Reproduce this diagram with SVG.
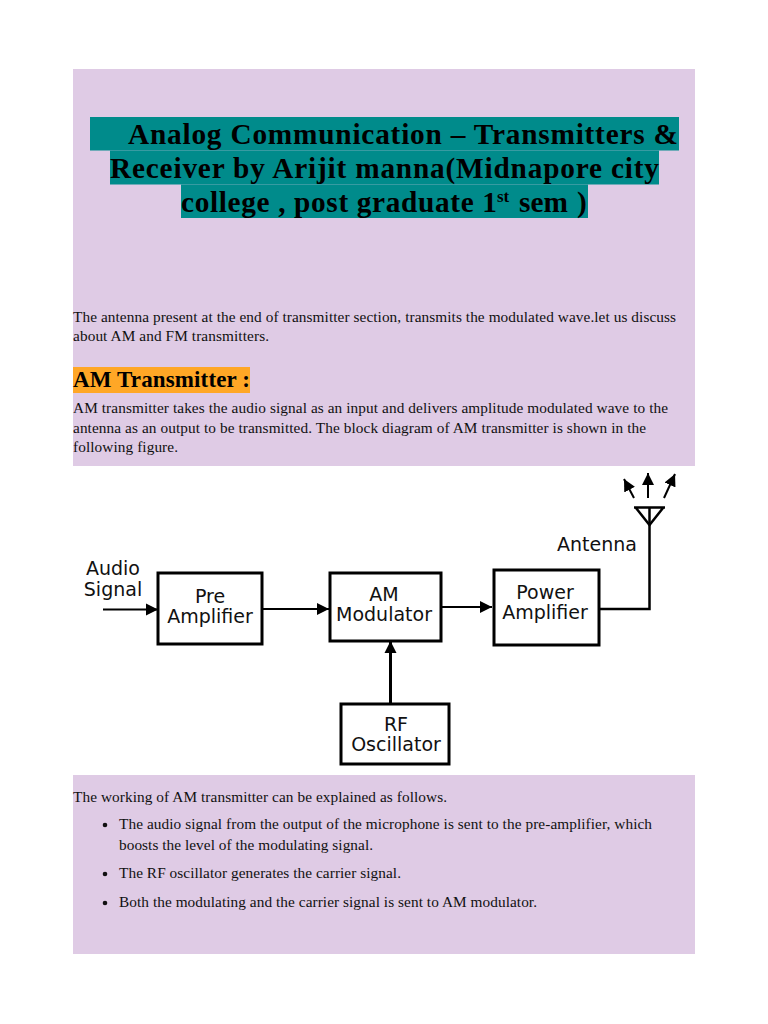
<svg xmlns="http://www.w3.org/2000/svg" width="768" height="1024" viewBox="0 0 768 1024">
<style>
.t{font-family:"Liberation Serif","Times New Roman",serif;font-size:15.3px;fill:#111}
.h{font-family:"Liberation Serif","Times New Roman",serif;font-size:29.3px;font-weight:bold;fill:#000}
.s{font-family:"Liberation Serif","Times New Roman",serif;font-size:23px;font-weight:bold;fill:#000}
.l{font-family:"DejaVu Sans",sans-serif;font-size:19px;fill:#111;text-anchor:middle}
.b{fill:#fff;stroke:#000;stroke-width:3}
.c{fill:none;stroke:#000;stroke-width:2}
</style>
<defs><marker id="a" markerUnits="userSpaceOnUse" markerWidth="13" markerHeight="14" refX="12" refY="7" orient="auto"><path d="M0 1L12 7L0 13Z" fill="#000"/></marker></defs>
<rect width="768" height="1024" fill="#fff"/>
<rect x="73" y="69" width="622" height="885" fill="#dfcbe5"/>
<g id="title-bg" fill="#008b8b"><rect x="90" y="117" width="589" height="33.500"/><rect x="110" y="150.500" width="549" height="34"/><rect x="181" y="184.500" width="407" height="33.500"/></g>
<text class="h" x="128" y="144" textLength="550" lengthAdjust="spacing">Analog Communication – Transmitters &amp;</text>
<text class="h" x="110" y="178" textLength="549" lengthAdjust="spacing">Receiver by Arijit manna(Midnapore city</text>
<text class="h" x="181" y="212" textLength="316" lengthAdjust="spacing">college , post graduate 1</text>
<text class="h" x="497" y="202" style="font-size:17px">st</text>
<text class="h" x="519" y="212">sem</text>
<text class="h" x="577" y="212">)</text>
<text class="t" x="73" y="322" textLength="603">The antenna present at the end of transmitter section, transmits the modulated wave.let us discuss</text>
<text class="t" x="73" y="341" textLength="196">about AM and FM transmitters.</text>
<rect x="73" y="367" width="177" height="26" fill="#ffa726"/>
<text class="s" x="73" y="387" textLength="177">AM Transmitter :</text>
<text class="t" x="73" y="413" textLength="595">AM transmitter takes the audio signal as an input and delivers amplitude modulated wave to the</text>
<text class="t" x="73" y="433" textLength="573">antenna as an output to be transmitted. The block diagram of AM transmitter is shown in the</text>
<text class="t" x="73" y="452" textLength="105">following figure.</text>
<rect x="73" y="466" width="622" height="309" fill="#fff"/>
<g id="connectors">
<path class="c" d="M103 609.500H158" marker-end="url(#a)"/>
<path class="c" d="M263 609H329" marker-end="url(#a)"/>
<path class="c" d="M442 607H492" marker-end="url(#a)"/>
<path d="M390.500 704V641" fill="none" stroke="#000" stroke-width="3" marker-end="url(#a)"/>
<path fill="none" stroke="#000" stroke-width="2.500" d="M600 609H649.500V507"/>
<path d="M634 507.500H665M636 508L649.500 525L663 508" fill="none" stroke="#000" stroke-width="2.500"/>
<path class="c" d="M648 498V473" marker-end="url(#a)"/>
<path class="c" d="M634 498L624 479" marker-end="url(#a)"/>
<path class="c" d="M664 498L675 474" marker-end="url(#a)"/>
</g>
<g id="audio-signal"><text class="l"><tspan x="113" y="575">Audio</tspan><tspan x="113" y="596">Signal</tspan></text></g>
<g id="pre-amplifier"><rect class="b" x="158" y="573" width="104" height="71"/><text class="l"><tspan x="210" y="603">Pre</tspan><tspan x="210" y="623">Amplifier</tspan></text></g>
<g id="am-modulator"><rect class="b" x="330" y="573" width="111" height="68"/><text class="l"><tspan x="384" y="601">AM</tspan><tspan x="384" y="621">Modulator</tspan></text></g>
<g id="power-amplifier"><rect class="b" x="494" y="570" width="105" height="75"/><text class="l"><tspan x="545" y="599">Power</tspan><tspan x="545" y="619">Amplifier</tspan></text></g>
<g id="rf-oscillator"><rect class="b" x="341" y="704" width="108" height="60"/><text class="l"><tspan x="396" y="731">RF</tspan><tspan x="396" y="751">Oscillator</tspan></text></g>
<g id="antenna"><text class="l" x="597" y="551">Antenna</text></g>
<text class="t" x="73" y="802" textLength="374">The working of AM transmitter can be explained as follows.</text>
<circle cx="105" cy="825" r="2.300" fill="#111"/>
<text class="t" x="119" y="829" textLength="533">The audio signal from the output of the microphone is sent to the pre-amplifier, which</text>
<text class="t" x="119" y="850" textLength="254">boosts the level of the modulating signal.</text>
<circle cx="105" cy="874" r="2.300" fill="#111"/>
<text class="t" x="119" y="878" textLength="282">The RF oscillator generates the carrier signal.</text>
<circle cx="105" cy="903" r="2.300" fill="#111"/>
<text class="t" x="119" y="907" textLength="418">Both the modulating and the carrier signal is sent to AM modulator.</text>
</svg>
